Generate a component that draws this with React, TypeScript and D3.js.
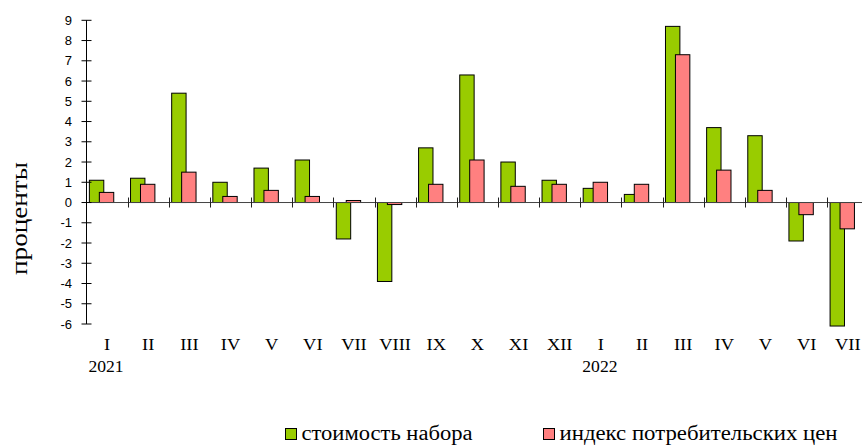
import { useEffect, useRef } from "react";
import * as d3 from "d3";

const months = ["I", "II", "III", "IV", "V", "VI", "VII", "VIII", "IX", "X", "XI", "XII", "I", "II", "III", "IV", "V", "VI", "VII"];
const years = [
  { label: "2021", index: 0 },
  { label: "2022", index: 12 },
];
const basketCost = [1.1, 1.2, 5.4, 1.0, 1.7, 2.1, -1.8, -3.9, 2.7, 6.3, 2.0, 1.1, 0.7, 0.4, 8.7, 3.7, 3.3, -1.9, -6.1];
const cpi = [0.5, 0.9, 1.5, 0.3, 0.6, 0.3, 0.1, -0.1, 0.9, 2.1, 0.8, 0.9, 1.0, 0.9, 7.3, 1.6, 0.6, -0.6, -1.3];
const yTicks = [-6, -5, -4, -3, -2, -1, 0, 1, 2, 3, 4, 5, 6, 7, 8, 9];
const seriesNames = ["стоимость набора", "индекс потребительских цен"];
const colors = ["#99cc00", "#ff8080"];

const serif = "'Liberation Serif', 'Times New Roman', serif";

const App = () => {
  const ref = useRef<SVGSVGElement>(null);

  useEffect(() => {
    const svg: any = d3.select(ref.current);
    svg.selectAll("*").remove();

    const left = 86.5;
    const top = 20.3;
    const bottom = 324;
    const bandW = 41.15;

    const keys = months.map((m, i) => i + ":" + m);
    const x = d3
      .scaleBand()
      .domain(keys)
      .range([left, left + bandW * months.length])
      .padding(0);
    const y = d3.scaleLinear().domain([-6, 9]).range([bottom, top]);
    const bw = x.bandwidth();
    const barW = bw * 0.35;

    // bars
    const series = [basketCost, cpi];
    const offsets = [0.07, 0.312];
    series.forEach((vals, s) => {
      svg
        .append("g")
        .selectAll("rect")
        .data(vals)
        .enter()
        .append("rect")
        .attr("x", (d: number, i: number) => (x(keys[i]) as number) + bw * offsets[s])
        .attr("y", (d: number) => y(Math.max(0, d)))
        .attr("width", barW)
        .attr("height", (d: number) => Math.abs(y(d) - y(0)))
        .attr("fill", colors[s])
        .attr("stroke", "#000")
        .attr("stroke-width", 1);
    });

    // zero line with category ticks
    const zero = y(0);
    svg
      .append("line")
      .attr("x1", left)
      .attr("x2", 862)
      .attr("y1", zero)
      .attr("y2", zero)
      .attr("stroke", "#444")
      .attr("stroke-width", 1);
    svg
      .append("g")
      .selectAll("line")
      .data(keys.slice(1))
      .enter()
      .append("line")
      .attr("x1", (d: string) => Math.round(x(d) as number) + 0.5)
      .attr("x2", (d: string) => Math.round(x(d) as number) + 0.5)
      .attr("y1", zero - 5)
      .attr("y2", zero + 5)
      .attr("stroke", "#222");

    // y axis
    svg
      .append("line")
      .attr("x1", left)
      .attr("x2", left)
      .attr("y1", top)
      .attr("y2", bottom)
      .attr("stroke", "#000");
    const yg = svg.append("g");
    yg.selectAll("line")
      .data(yTicks)
      .enter()
      .append("line")
      .attr("x1", left - 5)
      .attr("x2", left + 5)
      .attr("y1", (d: number) => y(d))
      .attr("y2", (d: number) => y(d))
      .attr("stroke", "#000");
    yg.selectAll("text")
      .data(yTicks)
      .enter()
      .append("text")
      .attr("x", 72)
      .attr("y", (d: number) => y(d) + 4.5)
      .attr("text-anchor", "end")
      .style("font-family", "'Liberation Sans', Arial, sans-serif")
      .style("font-size", "13px")
      .text((d: number) => d);

    svg
      .append("text")
      .attr("transform", "translate(27,218.5) rotate(-90)")
      .attr("text-anchor", "middle")
      .attr("textLength", 113)
      .attr("lengthAdjust", "spacingAndGlyphs")
      .style("font-family", serif)
      .style("font-size", "24px")
      .text("проценты");

    // category labels (source text is slightly stretched horizontally)
    svg
      .append("g")
      .selectAll("text")
      .data(keys)
      .enter()
      .append("text")
      .attr("transform", (d: string) => "translate(" + ((x(d) as number) + bw / 2) + ",350) scale(1.15,1)")
      .attr("text-anchor", "middle")
      .style("font-family", serif)
      .style("font-size", "16px")
      .text((d: string) => d.split(":")[1]);

    svg
      .append("g")
      .selectAll("text")
      .data(years)
      .enter()
      .append("text")
      .attr("transform", (d: any) => "translate(" + ((x(keys[d.index]) as number) + bw / 2 - 1) + ",372) scale(1.1,1)")
      .attr("text-anchor", "middle")
      .style("font-family", serif)
      .style("font-size", "16px")
      .text((d: any) => d.label);

    // legend
    const legendX = [285, 543];
    const legendLen = [171, 278];
    seriesNames.forEach((name, s) => {
      svg
        .append("rect")
        .attr("x", legendX[s] + 0.5)
        .attr("y", 428.5)
        .attr("width", 11)
        .attr("height", 11)
        .attr("fill", colors[s])
        .attr("stroke", "#000");
      svg
        .append("text")
        .attr("x", legendX[s] + 16.5)
        .attr("y", 440)
        .attr("textLength", legendLen[s])
        .attr("lengthAdjust", "spacingAndGlyphs")
        .style("font-family", serif)
        .style("font-size", "20px")
        .text(name);
    });
  }, []);

  return (
    <svg
      ref={ref}
      width={862}
      height={446}
      style={{ position: "absolute", left: 0, top: 0, background: "#fff" }}
    />
  );
};

export default App;
